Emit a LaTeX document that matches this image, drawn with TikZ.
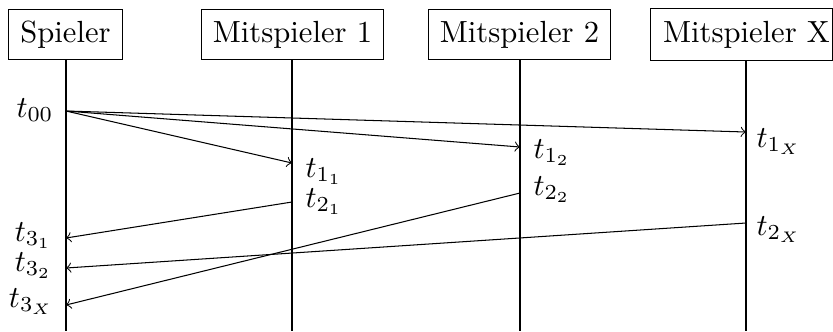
\documentclass[tikz,border=0pt]{standalone}
\usetikzlibrary{calc}
\begin{document}
\begin{tikzpicture}[x=0.3268pt,y=-0.3268pt,line width=0.34pt,
  actor/.style={draw,inner sep=3.8pt,anchor=center},
  life/.style={line width=0.34pt},
  msg/.style={->,line width=0.34pt},
  lblR/.style={anchor=base west,inner sep=0pt},
  lblL/.style={anchor=base east,inner sep=0pt}]
\useasboundingbox (0,0) rectangle (833,331);
% actors
\node[actor] (sp) at (65.5,34.5) {Spieler};
\node[actor] (m1) at (292.5,34.5) {Mitspieler 1};
\node[actor] (m2) at (519.5,34.5) {Mitspieler 2};
\node[inner sep=3.8pt,anchor=center] (mx) at (746.5,34.5) {Mitspieler X};
\draw (mx.south west) rectangle ([xshift=-3.2pt]mx.north east);
% lifeline ends
\coordinate (spb) at (66,331);
\coordinate (m1b) at (292,331);
\coordinate (m2b) at (520,331);
\coordinate (mxb) at (746,331);
\draw[life] (sp.south -| spb) -- (spb);
\draw[life] (m1.south -| m1b) -- (m1b);
\draw[life] (m2.south -| m2b) -- (m2b);
\draw[life] (mx.south -| mxb) -- (mxb);
% event points
\coordinate (t00) at (66,111);
\coordinate (t11) at (292,163);
\coordinate (t12) at (520,147);
\coordinate (t1X) at (746,132);
\coordinate (t21) at (292,202);
\coordinate (t22) at (520,193);
\coordinate (t2X) at (746,223);
\coordinate (t31) at (66,238);
\coordinate (t32) at (66,268);
\coordinate (t3X) at (66,305);
% messages
\draw[msg] (t00) -- (t11);
\draw[msg] (t00) -- (t12);
\draw[msg] (t00) -- (t1X);
\draw[msg] (t21) -- (t31);
\draw[msg] (t2X) -- (t32);
\draw[msg] (t22) -- (t3X);
% labels
\node[lblL] (l00) at (54,117) {$t_{00}$};
\node[lblL] (l31) at (52,241) {$t_{3_1}$};
\node[lblL] (l32) at (52,271) {$t_{3_2}$};
\node[lblL] (l3X) at (54,307) {$t_{3_X}$};
\node[lblR] (l11) at (305,177) {$t_{1_1}$};
\node[lblR] (l21) at (305,207) {$t_{2_1}$};
\node[lblR] (l12) at (533,158) {$t_{1_2}$};
\node[lblR] (l22) at (533,195) {$t_{2_2}$};
\node[lblR] (l1X) at (756,147) {$t_{1_X}$};
\node[lblR] (l2X) at (756,235) {$t_{2_X}$};
\end{tikzpicture}
\end{document}
